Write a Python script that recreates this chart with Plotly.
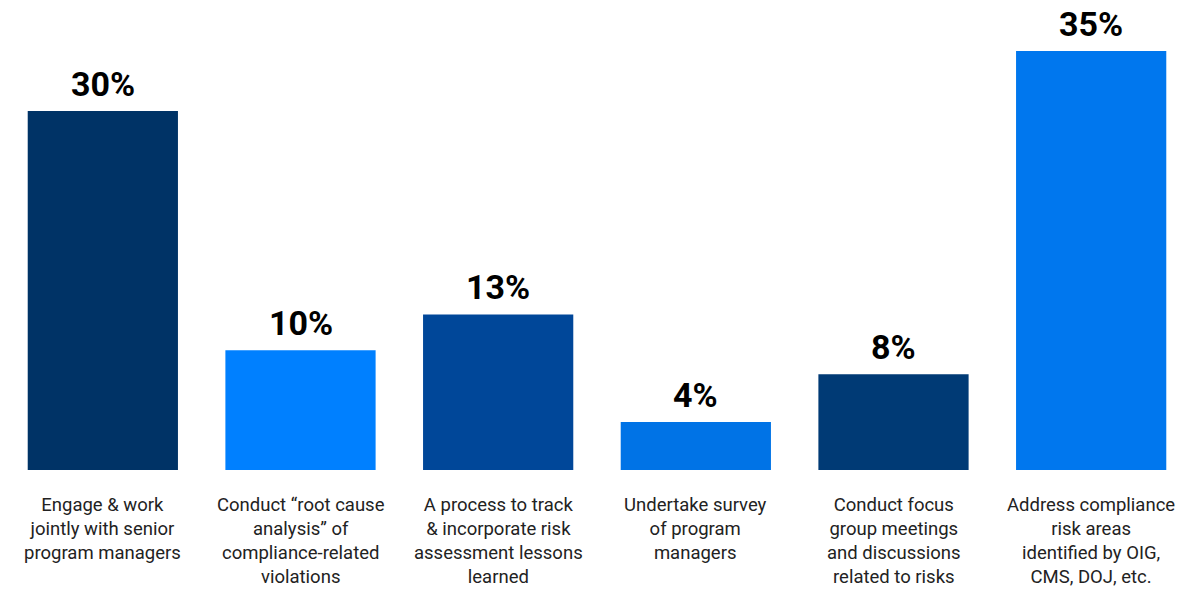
import plotly.graph_objects as go

# Survey results: share of respondents per activity
categories = [
    "Engage & work<br>jointly with senior<br>program managers",
    "Conduct \u201croot cause<br>analysis\u201d of<br>compliance-related<br>violations",
    "A process to track<br>& incorporate risk<br>assessment lessons<br>learned",
    "Undertake survey<br>of program<br>managers",
    "Conduct focus<br>group meetings<br>and discussions<br>related to risks",
    "Address compliance<br>risk areas<br>identified by OIG,<br>CMS, DOJ, etc.",
]
values = [30, 10, 13, 4, 8, 35]
bar_colors = ["#003366", "#0080ff", "#004799", "#0073e6", "#003a75", "#0077ee"]

x_idx = list(range(len(categories)))

fig = go.Figure(
    go.Bar(
        x=x_idx,
        y=values,
        marker=dict(color=bar_colors, line=dict(width=0)),
        hoverinfo="skip",
    )
)

annotations = []
for i, (cat, v) in enumerate(zip(categories, values)):
    # value label above each bar
    annotations.append(
        dict(
            x=i, y=v, xref="x", yref="y",
            text=f"{v}%",
            showarrow=False,
            yanchor="bottom",
            yshift=5,
            font=dict(family="Roboto", size=34, color="#000000", weight="bold"),
        )
    )
    # category label below each bar
    annotations.append(
        dict(
            x=i, y=0, xref="x", yref="paper",
            text=cat,
            showarrow=False,
            yanchor="top",
            yshift=-22,
            align="center",
            font=dict(family="Roboto", size=18.5, color="#222222"),
        )
    )

fig.update_layout(
    width=1193,
    height=591,
    margin=dict(l=4, r=3, t=10, b=121),
    paper_bgcolor="white",
    plot_bgcolor="white",
    bargap=0.24,
    showlegend=False,
    xaxis=dict(range=[-0.5, 5.5], showticklabels=False, showgrid=False,
               zeroline=False, showline=False, ticks=""),
    yaxis=dict(range=[0, 38.43], showticklabels=False, showgrid=False,
               zeroline=False, showline=False, ticks=""),
    annotations=annotations,
)

fig.write_html("out.html")
